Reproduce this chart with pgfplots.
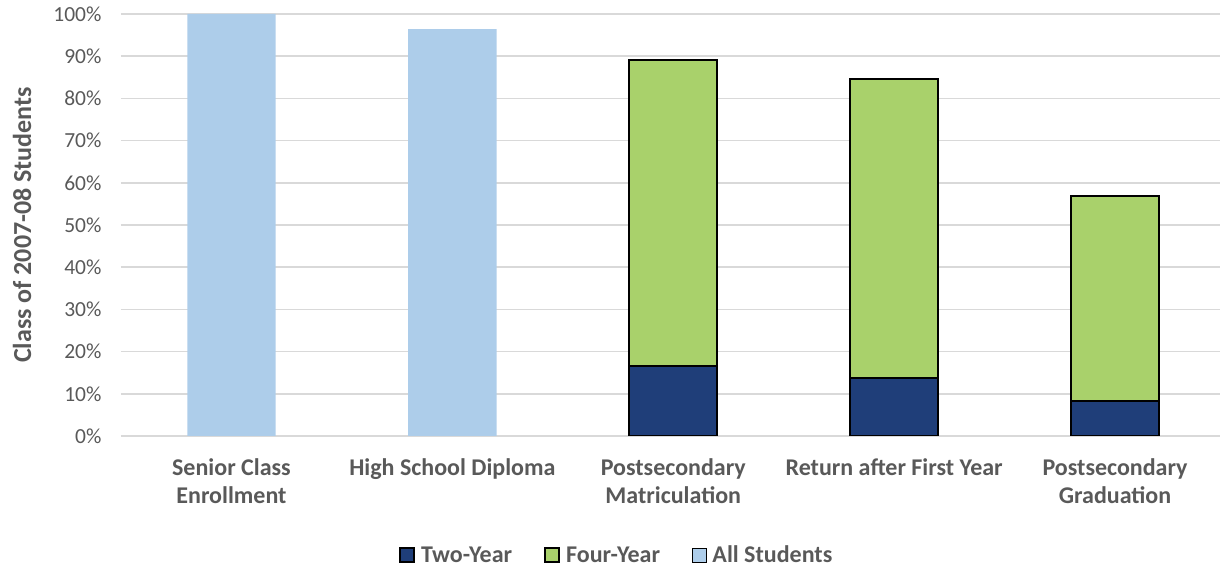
\documentclass[border=0pt]{standalone}
\usepackage{fontspec}
\setmainfont{Carlito}
\usepackage{pgfplots}
\usepackage{pgfplotstable}
\pgfplotsset{compat=1.18}
\definecolor{twoyr}{HTML}{1F3E79}
\definecolor{fouryr}{HTML}{A9D16B}
\definecolor{allst}{HTML}{ADCDEA}
\definecolor{txt}{HTML}{595959}
\definecolor{grd}{HTML}{D9D9D9}

% columns: x, two-year, four-year
\pgfplotstableread{
x two four
2 16.6 72.4
3 13.7 70.9
4 8.3 48.6
}\postsec

\begin{document}
\begin{tikzpicture}
\useasboundingbox (-121pt,-131pt) rectangle (1099pt,436pt);
\begin{axis}[
 scale only axis, width=1099pt, height=422pt,
 xmin=-0.5, xmax=4.475, ymin=0, ymax=100,
 axis x line*=bottom, axis y line*=left,
 axis line style={draw=none},
 major tick length=0pt,
 xtick={0,1,2,3,4},
 xticklabels={Senior Class\\Enrollment,High School Diploma,Postsecondary\\Matriculation,Return after First Year,Postsecondary\\Graduation},
 xticklabel style={align=center, font=\fontsize{24}{28}\selectfont\bfseries, text=txt, yshift=-19pt},
 ytick={0,10,...,100},
 yticklabel={\pgfmathprintnumber{\tick}\%},
 /pgf/number format/assume math mode=true,
 yticklabel style={font=\fontsize{21.5}{25}\selectfont, text=txt, xshift=-16pt},
 ymajorgrids, grid style={grd, line width=1.5pt},
 ylabel={Class of 2007-08 Students},
 ylabel style={at={(axis description cs:-0.09,0.5)}, anchor=center, font=\fontsize{26}{28}\selectfont\bfseries, text=txt},
 legend columns=3,
 legend style={at={(axis description cs:0.451,-0.282)}, anchor=center, draw=none, fill=none,
   font=\fontsize{24}{28}\selectfont\bfseries, text=txt,
   /tikz/every odd column/.append style={column sep=4pt},
   /tikz/every even column/.append style={column sep=30pt}},
 legend image code/.code={\draw[#1] (0pt,-7pt) rectangle (14pt,7pt);},
]
\addlegendimage{fill=twoyr, draw=black, line width=2pt}
\addlegendentry{Two-Year}
\addlegendimage{fill=fouryr, draw=black, line width=2pt}
\addlegendentry{Four-Year}
\addlegendimage{fill=allst, draw=none}
\addlegendentry{All Students}
\addplot[forget plot, ybar, bar width=0.4, bar shift=0pt, fill=fouryr, draw=black, line width=2pt]
  table[x=x, y expr=\thisrow{two}+\thisrow{four}] {\postsec};
\addplot[forget plot, ybar, bar width=0.4, bar shift=0pt, fill=twoyr, draw=black, line width=2pt]
  table[x=x, y=two] {\postsec};
\addplot[forget plot, ybar, bar width=0.4, bar shift=0pt, fill=allst, draw=none]
  coordinates {(0,100) (1,96.4)};
\end{axis}
\end{tikzpicture}
\end{document}
